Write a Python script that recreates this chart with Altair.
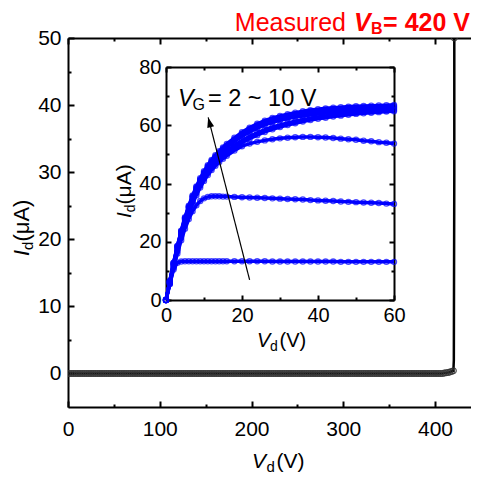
import altair as alt
import pandas as pd

FONT = "Liberation Sans"
BLUE = "#0000ff"
RED = "#ff0000"

# ---------------- main (off-state) data ----------------
VD_OFF = list(range(0, 421, 2))
ID_OFF = [0.0] * 205 + [0.05, 0.1, 0.15, 0.2, 0.3, 0.4]
VD_BD = [420.5, 421.0, 421.0]
ID_BD = [2.0, 30.0, 50.0]

MAIN_X_MAJOR = [0, 100, 200, 300, 400]
MAIN_X_MINOR = [50, 150, 250, 350]
MAIN_Y_MAJOR = [0, 10, 20, 30, 40, 50]
MAIN_Y_MINOR = [5, 15, 25, 35, 45]

# ---------------- inset (output characteristics) ----------------
VD_IN = [0, 1, 2, 3, 4, 5, 6, 7, 8, 9, 10, 11, 12, 13, 14, 15, 16,
         18, 20, 22, 24, 26, 28, 30, 32, 34, 36, 38, 40, 42, 44, 46, 48, 50, 52, 54, 56, 58, 60]
ID_VG2 = [0, 5.5, 10.5, 12.8, 13.2, 13.3, 13.3, 13.3, 13.3, 13.3, 13.3, 13.3, 13.3, 13.3, 13.3, 13.3, 13.3,
          13.3, 13.3, 13.3, 13.3, 13.3, 13.2, 13.2, 13.2, 13.2, 13.2, 13.2, 13.2, 13.2, 13.2, 13.1, 13.1, 13.1, 13.1, 13.1, 13.1, 13.1, 13.1]
ID_VG3 = [0, 5.5, 11, 16, 20.5, 24.5, 27.8, 30.5, 32.5, 34, 34.9, 35.4, 35.6, 35.6, 35.6, 35.5, 35.5,
          35.4, 35.3, 35.2, 35.1, 35.0, 34.9, 34.8, 34.7, 34.6, 34.5, 34.3, 34.2, 34.1, 34.0, 33.8, 33.7, 33.6, 33.5, 33.4, 33.3, 33.1, 33.0]
ID_VG4 = [0, 5.8, 11.4, 16.7, 21.5, 25.8, 29.6, 33, 36, 38.6, 40.9, 42.9, 44.6, 46.1, 47.4, 48.5, 49.5,
          51.3, 52.8, 53.7, 54.3, 54.8, 55.2, 55.5, 55.7, 55.9, 56, 56, 55.9, 55.8, 55.6, 55.4, 55.2, 55, 54.7, 54.5, 54.2, 54, 53.7]
ID_VG5 = [0, 6, 11.8, 17.2, 22.1, 26.5, 30.3, 33.7, 36.7, 39.3, 41.6, 43.6, 45.4, 46.9, 48.3, 49.5, 50.5,
          52.4, 54, 55.4, 56.6, 57.7, 58.6, 59.4, 60.1, 60.7, 61.3, 61.8, 62.2, 62.6, 63, 63.3, 63.6, 63.9, 64.1, 64.3, 64.5, 64.7, 64.8]
ID_VG6 = [0, 6.1, 12, 17.5, 22.5, 27, 30.8, 34.2, 37.2, 39.9, 42.2, 44.3, 46.1, 47.6, 49, 50.2, 51.2,
          53.1, 54.8, 56.2, 57.4, 58.5, 59.4, 60.1, 60.8, 61.4, 61.9, 62.4, 62.8, 63.2, 63.5, 63.8, 64.1, 64.3, 64.5, 64.7, 64.9, 65, 65.2]
ID_VG7 = [0, 6.3, 12.4, 18.1, 23.2, 27.7, 31.6, 35, 38, 40.7, 43.1, 45.2, 47, 48.6, 50, 51.2, 52.3,
          54.4, 56.2, 57.7, 59, 60.1, 61, 61.7, 62.3, 62.8, 63.2, 63.6, 63.9, 64.2, 64.5, 64.7, 64.9, 65.1, 65.3, 65.4, 65.5, 65.6, 65.7]
ID_VG8 = [0, 6.4, 12.6, 18.3, 23.4, 27.9, 31.8, 35.3, 38.4, 41.1, 43.5, 45.6, 47.4, 49, 50.4, 51.6, 52.7,
          54.8, 56.6, 58.2, 59.5, 60.6, 61.5, 62.2, 62.8, 63.3, 63.8, 64.2, 64.5, 64.8, 65, 65.2, 65.4, 65.5, 65.7, 65.8, 65.9, 66, 66.1]
ID_VG9 = [0, 6.45, 12.7, 18.5, 23.6, 28.2, 32.1, 35.6, 38.7, 41.4, 43.8, 45.9, 47.7, 49.3, 50.7, 52, 53.1,
          55.2, 57.1, 58.7, 60, 61.1, 62, 62.7, 63.3, 63.8, 64.3, 64.7, 65, 65.3, 65.5, 65.7, 65.9, 66, 66.1, 66.2, 66.3, 66.4, 66.5]
ID_VG10 = [0, 6.5, 12.8, 18.6, 23.8, 28.4, 32.4, 35.9, 39, 41.8, 44.2, 46.3, 48.1, 49.7, 51.1, 52.4, 53.6,
           55.7, 57.6, 59.2, 60.5, 61.6, 62.5, 63.2, 63.8, 64.3, 64.8, 65.2, 65.5, 65.8, 66.0, 66.2, 66.4, 66.5, 66.6, 66.7, 66.8, 66.9, 67.0]
VG_LIST = [2, 3, 4, 5, 6, 7, 8, 9, 10]
CURVES = [ID_VG2, ID_VG3, ID_VG4, ID_VG5, ID_VG6, ID_VG7, ID_VG8, ID_VG9, ID_VG10]

IN_X_MAJOR = [0, 20, 40, 60]
IN_X_MINOR = [10, 30, 50]
IN_Y_MAJOR = [0, 20, 40, 60, 80]
IN_Y_MINOR = [10, 30, 50, 70]

ARROW_TAIL_VD, ARROW_TAIL_ID = [22.0], [6.9]
ARROW_HEAD_VD, ARROW_HEAD_ID = [11.1], [62.7]

# ---------------- frames ----------------
main_df = pd.DataFrame({
    "vd": VD_OFF + VD_BD,
    "id": ID_OFF + ID_BD,
    "k": list(range(len(VD_OFF) + len(VD_BD))),
})
main_pts = pd.DataFrame({"vd": VD_OFF + [VD_BD[-1]], "id": ID_OFF + [ID_BD[-1]]})

rows = []
for vg, cur in zip(VG_LIST, CURVES):
    assert len(cur) == len(VD_IN)
    for v, i in zip(VD_IN, cur):
        rows.append({"vg": vg, "vd": v, "id": i})
inset_df = pd.DataFrame(rows)

arrow_df = pd.DataFrame({"vd": ARROW_TAIL_VD, "id": ARROW_TAIL_ID,
                         "vd2": ARROW_HEAD_VD, "id2": ARROW_HEAD_ID})

W, H = 403, 369
X_MAX = 439.2
# inset plot rectangle inside the main plot (pixels)
IX0, IX1, IY0, IY1 = 98, 326, 262, 29


def sx_main():
    return alt.Scale(domain=[0, X_MAX], nice=False, zero=False)


def sy_main():
    return alt.Scale(domain=[-5, 50], nice=False, zero=False)


def sx_in():
    return alt.Scale(domain=[0, 60], range=[IX0, IX1], nice=False, zero=False)


def sy_in():
    return alt.Scale(domain=[0, 80], range=[IY0, IY1], nice=False, zero=False)


def lab_axis(orient, offset, values, size, pad):
    return alt.Axis(orient=orient, offset=offset, values=values, ticks=False, tickSize=0,
                    labels=True, labelFont=FONT, labelFontSize=size, labelColor="black",
                    labelPadding=pad, labelFlush=False, labelOverlap=False,
                    domain=True, domainColor="black", domainWidth=2,
                    grid=False, title="")


def tick_axis(orient, offset, values, size, domain=False):
    return alt.Axis(orient=orient, offset=offset, values=values, ticks=True, tickSize=size,
                    tickColor="black", tickWidth=2, labels=False,
                    domain=domain, domainColor="black", domainWidth=2,
                    grid=False, title="")


axdf = pd.DataFrame({"vd": [10.0], "id": [10.0]})


def axis_layer(xsc, ysc, xaxis, yaxis):
    return alt.Chart(axdf).mark_point(opacity=0).encode(
        x=alt.X("vd:Q", scale=xsc, axis=xaxis),
        y=alt.Y("id:Q", scale=ysc, axis=yaxis),
    )


layers = []

# main axes
layers.append(axis_layer(sx_main(), sy_main(),
                         lab_axis("bottom", 0, MAIN_X_MAJOR, 21, 11),
                         lab_axis("left", 0, MAIN_Y_MAJOR, 21, 7)))
layers.append(axis_layer(sx_main(), sy_main(),
                         tick_axis("top", -H, MAIN_X_MAJOR, 6),
                         tick_axis("right", -W, MAIN_Y_MAJOR, 6)))
layers.append(axis_layer(sx_main(), sy_main(),
                         tick_axis("top", -H, MAIN_X_MINOR, 3),
                         tick_axis("right", -W, MAIN_Y_MINOR, 3)))
layers.append(axis_layer(sx_main(), sy_main(),
                         tick_axis("bottom", -H, MAIN_X_MAJOR, 6, domain=True),
                         None))
layers.append(axis_layer(sx_main(), sy_main(),
                         tick_axis("bottom", -H, MAIN_X_MINOR, 3),
                         None))

# inset axes
layers.append(axis_layer(sx_in(), sy_in(),
                         lab_axis("bottom", IY0 - H, IN_X_MAJOR, 20, 5),
                         lab_axis("left", -IX0, IN_Y_MAJOR, 20, 5)))
layers.append(axis_layer(sx_in(), sy_in(),
                         tick_axis("top", -IY0, IN_X_MAJOR, 5),
                         tick_axis("right", IX0 - W, IN_Y_MAJOR, 5)))
layers.append(axis_layer(sx_in(), sy_in(),
                         tick_axis("top", -IY0, IN_X_MINOR, 3),
                         tick_axis("right", IX0 - W, IN_Y_MINOR, 3)))
layers.append(axis_layer(sx_in(), sy_in(),
                         tick_axis("bottom", IY1 - H, IN_X_MAJOR, 5, domain=True),
                         tick_axis("left", -IX1, IN_Y_MAJOR, 5, domain=True)))
layers.append(axis_layer(sx_in(), sy_in(),
                         tick_axis("bottom", IY1 - H, IN_X_MINOR, 3),
                         tick_axis("left", -IX1, IN_Y_MINOR, 3)))

# main data
layers.append(alt.Chart(main_df).mark_line(color="black", strokeWidth=2.5, clip=True).encode(
    x=alt.X("vd:Q", scale=sx_main(), axis=None),
    y=alt.Y("id:Q", scale=sy_main(), axis=None),
    order="k:Q"))
layers.append(alt.Chart(main_pts).mark_point(filled=False, color="#333333", size=34,
                                             strokeWidth=1.2, opacity=0.85, clip=True).encode(
    x=alt.X("vd:Q", scale=sx_main(), axis=None),
    y=alt.Y("id:Q", scale=sy_main(), axis=None)))

# inset data
layers.append(alt.Chart(inset_df).mark_line(color=BLUE, strokeWidth=3.5).encode(
    x=alt.X("vd:Q", scale=sx_in(), axis=None),
    y=alt.Y("id:Q", scale=sy_in(), axis=None),
    detail="vg:N"))
layers.append(alt.Chart(inset_df).mark_point(filled=False, color=BLUE, size=26, strokeWidth=1.3).encode(
    x=alt.X("vd:Q", scale=sx_in(), axis=None),
    y=alt.Y("id:Q", scale=sy_in(), axis=None)))

# arrow
layers.append(alt.Chart(arrow_df).mark_rule(color="black", strokeWidth=1.2).encode(
    x=alt.X("vd:Q", scale=sx_in(), axis=None),
    y=alt.Y("id:Q", scale=sy_in(), axis=None),
    x2="vd2:Q", y2="id2:Q"))
layers.append(alt.Chart(arrow_df).mark_point(shape="M0,0L0.7,2L-0.7,2Z", filled=True, color="black",
                                             size=100, angle=345.5, opacity=1).encode(
    x=alt.X("vd2:Q", scale=sx_in(), axis=None),
    y=alt.Y("id2:Q", scale=sy_in(), axis=None)))

# texts (positions in plot pixels)
one = pd.DataFrame({"a": [0]})


def txt(s, x, y, size, color="black", weight="normal", style="normal", align="left", angle=0):
    kw = dict(text=s, font=FONT, fontSize=size, color=color, fontWeight=weight,
              fontStyle=style, align=align, baseline="alphabetic")
    if angle:
        kw["angle"] = angle
    return alt.Chart(one).mark_text(**kw).encode(x=alt.value(x), y=alt.value(y))


TITLE_WORD, TITLE_VAR, TITLE_SUB, TITLE_VAL = "Measured", "V", "B", "= 420 V"
layers += [
    txt(TITLE_WORD, 278, -7, 25, RED, align="right"),
    txt(TITLE_VAR, 286, -7, 25, RED, weight="bold", style="italic"),
    txt(TITLE_SUB, 303, -4, 16, RED, weight="bold"),
    txt(TITLE_VAL, 402, -7, 25, RED, weight="bold", align="right"),
    # main x title
    txt("V", 184, 430, 21, style="italic"),
    txt("d", 198.5, 434, 15),
    txt("(V)", 208.5, 430, 21),
    # inset x title
    txt("V", 189, 309, 20, style="italic"),
    txt("d", 202, 313, 14),
    txt("(V)", 211.5, 309, 20),
    # main y title (rotated)
    txt("I", -39, 218, 22, style="italic", angle=270),
    txt("d", -35.5, 211.9, 15, angle=270),
    txt("(μA)", -39, 203.6, 22, angle=270),
    # inset y title (rotated)
    txt("I", 63, 180, 21, style="italic", angle=270),
    txt("d", 66.5, 174.2, 14, angle=270),
    txt("(μA)", 63, 166.4, 21, angle=270),
    # V_G annotation
    txt("V", 110, 68, 23.5, style="italic"),
    txt("G", 124.5, 71.5, 16),
    txt("= 2 ~ 10 V", 140, 68, 23.5),
]

chart = alt.layer(*layers).resolve_scale(x="independent", y="independent").properties(
    width=W, height=H,
    autosize=alt.AutoSizeParams(type="none"),
    padding={"left": 60, "top": 30, "right": 0, "bottom": 70},
    background="white",
).configure_view(strokeWidth=0)

chart.save("out.html", embed_options={"renderer": "svg", "actions": False})
